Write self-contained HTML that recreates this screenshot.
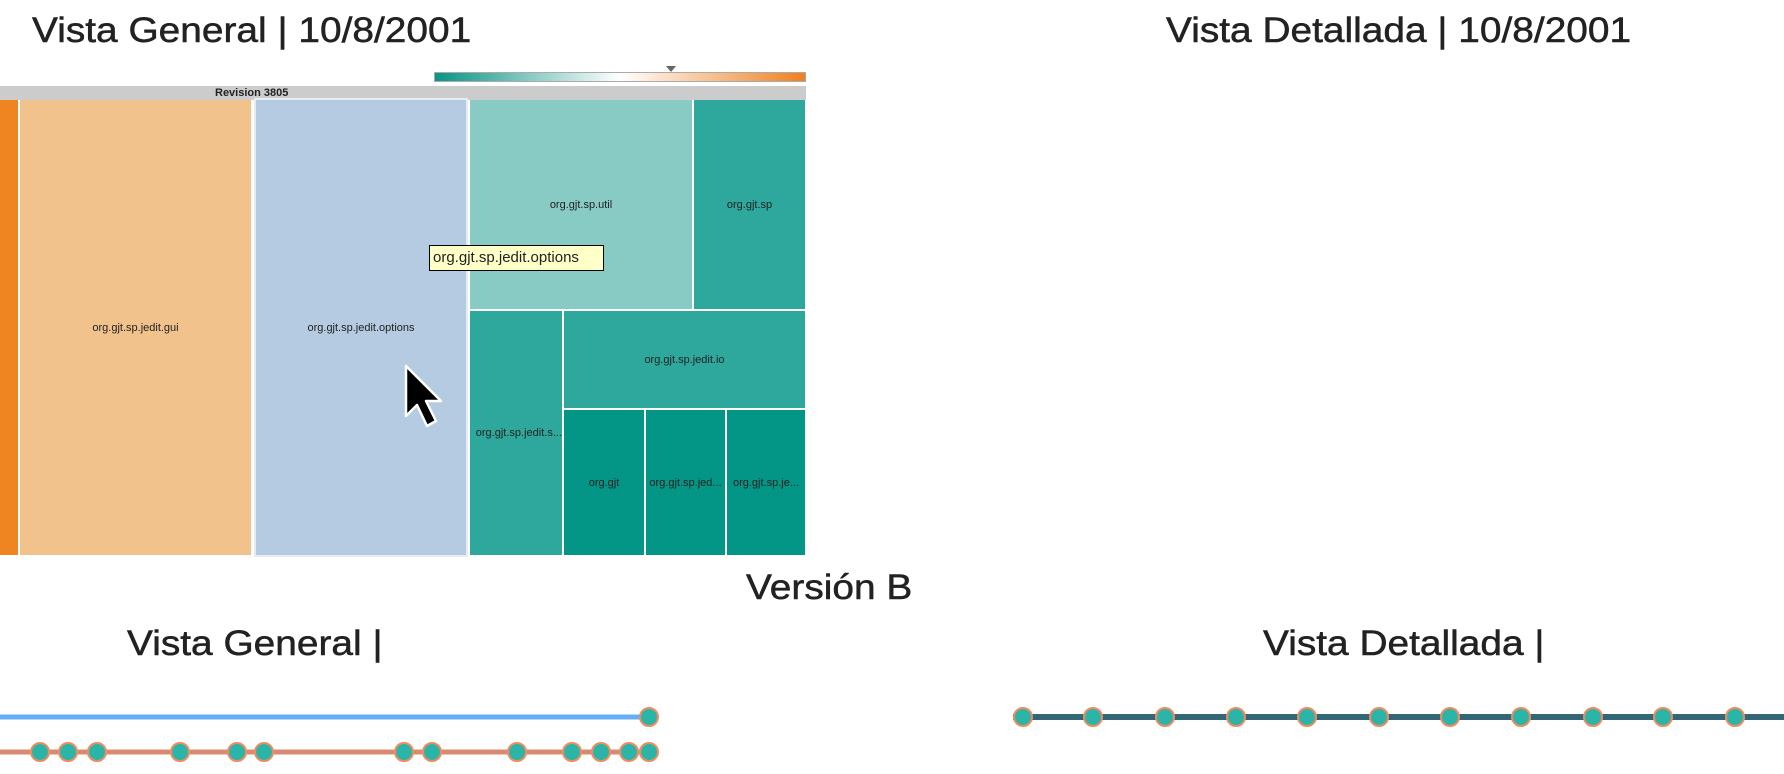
<!DOCTYPE html>
<html><head><meta charset="utf-8"><style>
body{margin:0;width:1784px;height:774px;background:#fff;position:relative;overflow:hidden;font-family:"Liberation Sans",sans-serif;color:#222}
.t{position:absolute;font-size:35px;white-space:nowrap;line-height:1;transform:scaleX(1.11);transform-origin:0 0;-webkit-text-stroke:0.5px #222}
.b{position:absolute;box-sizing:border-box;display:flex;align-items:center;justify-content:center;font-size:11px;color:#222;white-space:nowrap;overflow:hidden}
</style></head><body>
<div class="t" style="left:32px;top:13px">Vista General | 10/8/2001</div>
<div class="t" style="left:1166px;top:13px">Vista Detallada | 10/8/2001</div>
<div style="position:absolute;left:434px;top:72px;width:372px;height:10px;background:linear-gradient(to right,#0a9484,#ffffff 50%,#ee8020);border:1px solid #aaa;box-sizing:border-box"></div>
<div style="position:absolute;left:666px;top:66px;width:0;height:0;border-left:5px solid transparent;border-right:5px solid transparent;border-top:6px solid #666"></div>
<div class="b" style="left:0;top:86px;width:806px;height:14px;background:#cccccc;font-weight:bold;font-size:11px;justify-content:flex-start;padding-left:215px">Revision 3805</div>
<div class="b" style="left:0;top:100px;width:18px;height:455px;background:#ef8520"></div>
<div class="b" style="left:20px;top:100px;width:231px;height:455px;background:#f2c28c">org.gjt.sp.jedit.gui</div>
<div class="b" style="left:254px;top:98px;width:214px;height:459px;background:#b5cbe1;border:2px solid #e6ecf2">org.gjt.sp.jedit.options</div>
<div class="b" style="left:470px;top:100px;width:222px;height:209px;background:#88cbc5">org.gjt.sp.util</div>
<div class="b" style="left:694px;top:100px;width:111px;height:209px;background:#2ea89c">org.gjt.sp</div>
<div class="b" style="left:470px;top:311px;width:92px;height:244px;background:#2ea89c;justify-content:flex-end">org.gjt.sp.jedit.s...</div>
<div class="b" style="left:564px;top:311px;width:241px;height:97px;background:#2ea89c">org.gjt.sp.jedit.io</div>
<div class="b" style="left:564px;top:410px;width:80px;height:145px;background:#039585">org.gjt</div>
<div class="b" style="left:646px;top:410px;width:79px;height:145px;background:#039585">org.gjt.sp.jed...</div>
<div class="b" style="left:727px;top:410px;width:78px;height:145px;background:#039585">org.gjt.sp.je...</div>
<div style="position:absolute;left:429px;top:245px;width:175px;height:26px;box-sizing:border-box;background:#ffffc8;border:1px solid #000;font-size:15px;line-height:24px;padding-left:3px;white-space:nowrap">org.gjt.sp.jedit.options</div>
<svg style="position:absolute;left:400px;top:362px" width="50" height="72"><path d="M6 4 L6 54 L17 43 L27 64 L36 59 L26 39 L41 39 Z" fill="#000" stroke="#fff" stroke-width="2.5" stroke-linejoin="round"/></svg>
<div class="t" style="left:746px;top:570px">Versión B</div>
<div class="t" style="left:127px;top:626px">Vista General |</div>
<div class="t" style="left:1263px;top:626px">Vista Detallada |</div>
<svg style="position:absolute;left:0;top:0" width="1784" height="774">
<line x1="0" y1="717" x2="649" y2="717" stroke="#66aff5" stroke-width="5"/>
<line x1="0" y1="752" x2="649" y2="752" stroke="#d98a72" stroke-width="5"/>
<line x1="1013" y1="717" x2="1784" y2="717" stroke="#336677" stroke-width="6"/>
<g fill="#2bb5a8" stroke="#f08c60" stroke-width="2">
<circle cx="649" cy="717" r="9"/>
<circle cx="40" cy="752" r="9"/><circle cx="68" cy="752" r="9"/><circle cx="97" cy="752" r="9"/><circle cx="180" cy="752" r="9"/><circle cx="237" cy="752" r="9"/><circle cx="264" cy="752" r="9"/><circle cx="404" cy="752" r="9"/><circle cx="432" cy="752" r="9"/><circle cx="517" cy="752" r="9"/><circle cx="572" cy="752" r="9"/><circle cx="601" cy="752" r="9"/><circle cx="629" cy="752" r="9"/><circle cx="649" cy="752" r="9"/>
<circle cx="1023" cy="717" r="9"/><circle cx="1093" cy="717" r="9"/><circle cx="1165" cy="717" r="9"/><circle cx="1236" cy="717" r="9"/><circle cx="1307" cy="717" r="9"/><circle cx="1379" cy="717" r="9"/><circle cx="1450" cy="717" r="9"/><circle cx="1521" cy="717" r="9"/><circle cx="1593" cy="717" r="9"/><circle cx="1663" cy="717" r="9"/><circle cx="1735" cy="717" r="9"/>
</g></svg>
</body></html>
